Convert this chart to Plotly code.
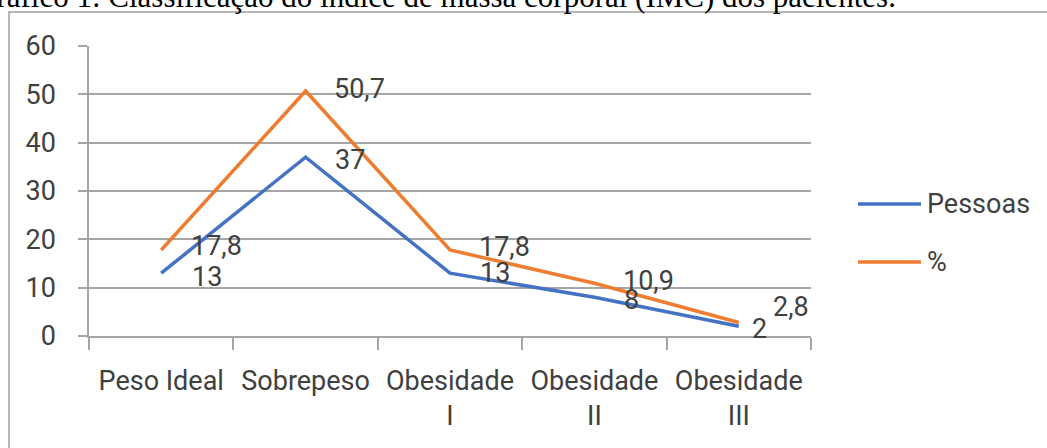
import plotly.graph_objects as go

# data
categories = ["Peso Ideal", "Sobrepeso", "Obesidade<br>I", "Obesidade<br>II", "Obesidade<br>III"]
pessoas = [13, 37, 13, 8, 2]
percent = [17.8, 50.7, 17.8, 10.9, 2.8]
pessoas_labels = ["13", "37", "13", "8", "2"]
percent_labels = ["17,8", "50,7", "17,8", "10,9", "2,8"]
y_ticks = [0, 10, 20, 30, 40, 50, 60]

W, H = 1047, 448
PLOT_X0, PLOT_X1 = 89, 811   # plot area in page pixels
PLOT_Y0, PLOT_Y1 = 46, 336
L, T = PLOT_X0, PLOT_Y0
PW, PH = PLOT_X1 - PLOT_X0, PLOT_Y1 - PLOT_Y0
R, B = W - L - PW, H - T - PH

BLUE = "#4472C4"
ORANGE = "#ED7D31"
GRID = "#a6a6a6"
TXT = "#404040"
FONT = "Roboto, sans-serif"
FS = 27


def px_x(x):
    # page pixel -> paper coordinate
    return (x - PLOT_X0) / PW


def px_y(y):
    return (PLOT_Y1 - y) / PH


fig = go.Figure()
fig.add_trace(go.Scatter(x=categories, y=pessoas, mode="lines", name="Pessoas",
                         line=dict(color=BLUE, width=3.5), showlegend=False))
fig.add_trace(go.Scatter(x=categories, y=percent, mode="lines", name="%",
                         line=dict(color=ORANGE, width=3.5), showlegend=False))

# data labels, offsets in pixels to mimic Excel's placement
blue_off = [(29, -4), (27, -3), (28, 0), (28, -3), (11, -3)]
orange_off = [(28, 4), (26, 2), (27, 3), (27, 2), (32, 15)]
annotations = []
for cat, v, t, (dx, dy) in zip(categories, pessoas, pessoas_labels, blue_off):
    annotations.append(dict(x=cat, y=v, text=t, xanchor="left", yanchor="middle",
                            xshift=dx, yshift=dy, showarrow=False,
                            font=dict(family=FONT, size=FS, color=TXT)))
for cat, v, t, (dx, dy) in zip(categories, percent, percent_labels, orange_off):
    annotations.append(dict(x=cat, y=v, text=t, xanchor="left", yanchor="middle",
                            xshift=dx, yshift=dy, showarrow=False,
                            font=dict(family=FONT, size=FS, color=TXT)))

# legend drawn by hand so the line length and spacing match
shapes = []
for name, color, ypx in [("Pessoas", BLUE, 204), ("%", ORANGE, 262)]:
    shapes.append(dict(type="line", xref="paper", yref="paper",
                       x0=px_x(858), x1=px_x(921), y0=px_y(ypx), y1=px_y(ypx),
                       line=dict(color=color, width=3.5)))
    annotations.append(dict(xref="paper", yref="paper", x=px_x(925), y=px_y(ypx),
                            text=name, xanchor="left", yanchor="middle", showarrow=False,
                            font=dict(family=FONT, size=FS, color=TXT)))

# chart frame (left and top edges visible)
shapes.append(dict(type="path", xref="paper", yref="paper",
                   path=f"M {px_x(9)},{px_y(H + 20)} L {px_x(9)},{px_y(12)} L {px_x(W + 20)},{px_y(12)}",
                   line=dict(color="#a0a0a0", width=1.5)))

# caption of the figure, cut off by the top of the page
annotations.append(dict(xref="paper", yref="paper", x=px_x(898), y=px_y(16),
                        text="Gráfico 1: Classificação do índice de massa corporal (IMC) dos pacientes.",
                        xanchor="right", yanchor="bottom", showarrow=False,
                        font=dict(family="Liberation Serif, serif", size=31, color="#000000")))

fig.update_layout(
    width=W, height=H,
    margin=dict(l=L, r=R, t=T, b=B, autoexpand=False),
    paper_bgcolor="white", plot_bgcolor="white",
    showlegend=False,
    annotations=annotations,
    shapes=shapes,
    xaxis=dict(
        type="category", categoryorder="array", categoryarray=categories,
        range=[-0.5, 4.5], tickson="boundaries", automargin=False,
        ticks="outside", ticklen=12, tickcolor=GRID, tickwidth=1.5,
        showline=True, linecolor=GRID, linewidth=1.5,
        showgrid=False, zeroline=False,
        tickfont=dict(family=FONT, size=FS, color=TXT),
        ticklabelstandoff=20,
    ),
    yaxis=dict(
        range=[0, 60], tickvals=y_ticks, automargin=False,
        ticks="outside", ticklen=9, tickcolor=GRID, tickwidth=1.5,
        showline=True, linecolor=GRID, linewidth=1.5,
        showgrid=True, gridcolor=GRID, gridwidth=1.5, zeroline=False,
        tickfont=dict(family=FONT, size=FS, color=TXT),
        ticklabelstandoff=17,
    ),
)

# drop the page's default body margin so the figure sits at the window's corner
fig.write_html("out.html", config={"displayModeBar": False},
               post_script="document.body.style.margin = '0';")
